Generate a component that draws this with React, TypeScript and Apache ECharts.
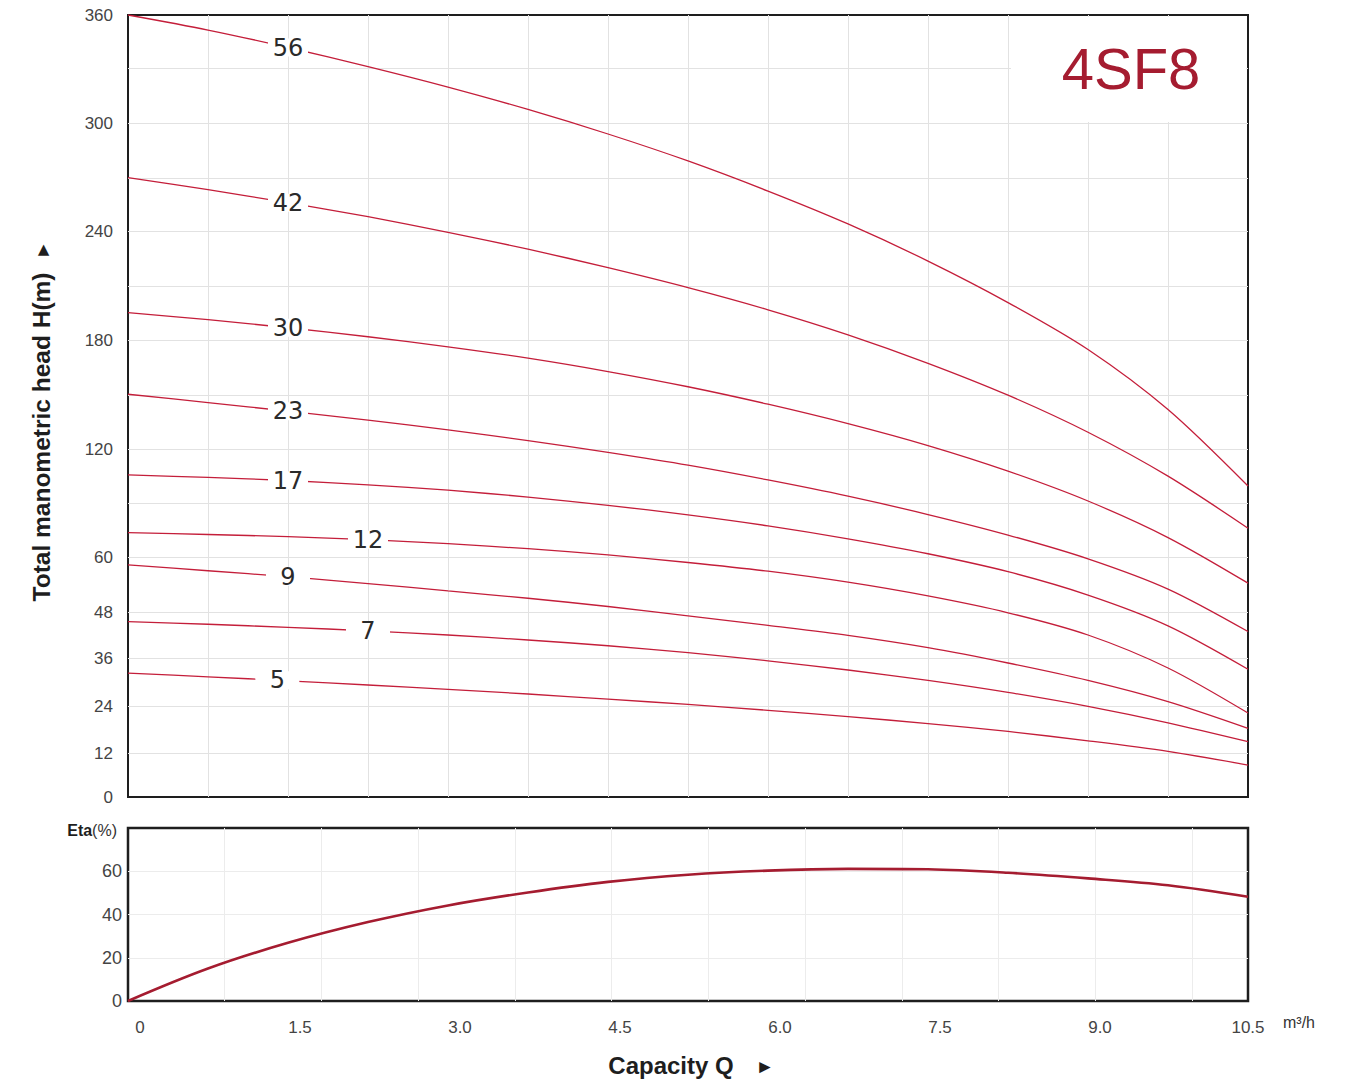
import React, { useEffect, useRef } from 'react';
import * as echarts from 'echarts';

// ---- data ----
const flowQ = [0, 0.75, 1.5, 2.25, 3, 3.75, 4.5, 5.25, 6, 6.75, 7.5, 8.25, 9, 9.75, 10.5];
const stageNames = ['56', '42', '30', '23', '17', '12', '9', '7', '5'];
const head56 = [360, 351.5, 341.6, 330.8, 319.6, 307.4, 294, 279.3, 262.6, 244, 223.6, 200.8, 174.8, 141.9, 99.4];
const head42 = [270.2, 263.4, 256, 248.1, 239.3, 230.1, 220, 209.1, 196.8, 182.9, 167.3, 149.9, 129.3, 104.9, 76];
const head30 = [195.2, 191.3, 186.8, 181.8, 176.3, 170.1, 162.8, 154.5, 144.9, 134.1, 121.9, 107.7, 91.1, 70.8, 54.3];
const head23 = [150.4, 145.8, 141, 136, 130.6, 124.7, 118.1, 111, 102.8, 93.8, 83.6, 72.2, 59.6, 53, 42.9];
const head17 = [105.6, 104.2, 102.5, 100.1, 97.1, 93.3, 88.7, 83.4, 77.3, 70.1, 61.8, 56.8, 51.7, 44.4, 33.2];
const head12 = [73.5, 72.5, 71.3, 69.6, 67.4, 64.6, 61.2, 58.8, 56.9, 54.5, 51.5, 47.8, 42, 33.5, 22.2];
const head9 = [58.3, 57, 55.7, 54.2, 52.6, 51, 49.2, 47, 44.5, 41.9, 38.7, 34.75, 30.4, 25.1, 18.3];
const head7 = [45.5, 44.8, 44, 43.1, 42, 40.7, 39.2, 37.4, 35.3, 33, 30.4, 27.4, 23.9, 19.7, 14.9];
const head5 = [32.2, 31.3, 30.3, 29.25, 28.15, 27, 25.7, 24.4, 22.9, 21.3, 19.5, 17.5, 15.1, 12.4, 8.7];
const efficiency = [0, 15, 26.9, 36.5, 44.2, 50.2, 55.1, 58.4, 60.3, 61.1, 60.9, 59.3, 56.7, 53.5, 48.2];
const stageLabelQ = [1.5, 1.5, 1.5, 1.5, 1.5, 2.25, 1.5, 2.25, 1.4];

// non-linear head axis: break values and their relative scale position
const headBreaks = [0, 12, 24, 36, 48, 60, 90, 120, 150, 180, 210, 240, 270, 300, 330, 360];
const headBreakScale = [0, 44, 91, 139, 185, 240, 294, 348, 402, 457, 511, 566, 619, 674, 729, 782];
const headTickLabels = [0, 12, 24, 36, 48, 60, 120, 180, 240, 300, 360];
const flowMax = 10.5;
const etaMax = 80;

const heads = [head56, head42, head30, head23, head17, head12, head9, head7, head5];

function toScale(h: number): number {
  for (let i = 0; i < headBreaks.length - 1; i++) {
    if (h <= headBreaks[i + 1] || i === headBreaks.length - 2) {
      const a = headBreaks[i], b = headBreaks[i + 1];
      return headBreakScale[i] + ((h - a) / (b - a)) * (headBreakScale[i + 1] - headBreakScale[i]);
    }
  }
  return 0;
}
function fromScale(v: number): string {
  for (let i = 0; i < headBreakScale.length; i++) {
    if (Math.abs(headBreakScale[i] - v) < 0.5) return String(headBreaks[i]);
  }
  return '';
}
function interpAt(xs: number[], ys: number[], x: number): number {
  for (let i = 0; i < xs.length - 1; i++) {
    if (x >= xs[i] && x <= xs[i + 1]) {
      const t = (x - xs[i]) / (xs[i + 1] - xs[i]);
      return ys[i] + t * (ys[i + 1] - ys[i]);
    }
  }
  return ys[ys.length - 1];
}

const FONT = 'Liberation Sans, Arial, sans-serif';
const CURVE = '#c41e3a';
const GRIDC = '#e2e2e2';

export default function App() {
  const ref = useRef<HTMLDivElement>(null);
  useEffect(() => {
    if (!ref.current) return;
    const chart = echarts.init(ref.current, undefined, { renderer: 'svg' });

    const series: any[] = [];
    heads.forEach((arr, i) => {
      const ys = arr.map(toScale);
      const data = flowQ.map((q, j) => [q, ys[j]]);
      const lq = stageLabelQ[i];
      const s: any = {
        type: 'line',
        xAxisIndex: 0,
        yAxisIndex: 0,
        data,
        smooth: 0.3,
        showSymbol: false,
        symbol: 'none',
        silent: true,
        z: 3,
        lineStyle: { color: CURVE, width: 1.3 },
        markPoint: {
          silent: true,
          symbol: 'rect',
          symbolSize: [stageNames[i].length === 1 ? 44 : 40, 18],
          itemStyle: { color: '#ffffff' },
          label: {
            show: true,
            position: 'inside',
            formatter: stageNames[i],
            color: '#2a2a2a',
            fontSize: 24,
            fontFamily: 'DejaVu Sans, sans-serif',
          },
          data: [{ coord: [lq, interpAt(flowQ, ys, lq)] }],
        },
      };
      if (i === 0) {
        s.markLine = {
          silent: true,
          z: 1,
          symbol: 'none',
          label: { show: false },
          lineStyle: { color: GRIDC, width: 1, type: 'solid' },
          data: headBreaks.slice(1, -1).map((b) => ({ yAxis: toScale(b) })),
        };
      }
      series.push(s);
    });
    series.push({
      type: 'line',
      xAxisIndex: 1,
      yAxisIndex: 1,
      data: flowQ.map((q, j) => [q, efficiency[j]]),
      smooth: 0.35,
      showSymbol: false,
      symbol: 'none',
      silent: true,
      z: 3,
      lineStyle: { color: '#a51c30', width: 2.6 },
    });

    const option: any = {
      animation: false,
      backgroundColor: '#ffffff',
      textStyle: { fontFamily: FONT },
      grid: [
        { left: 128, top: 15, right: 106, height: 782, show: true, borderColor: '#1e1e1e', borderWidth: 2, backgroundColor: 'transparent' },
        { left: 128, top: 828, right: 106, height: 173, show: true, borderColor: '#1e1e1e', borderWidth: 2.5, backgroundColor: 'transparent' },
      ],
      xAxis: [
        {
          gridIndex: 0, type: 'value', min: 0, max: flowMax, interval: 0.75,
          axisLine: { show: false }, axisTick: { show: false }, axisLabel: { show: false },
          splitLine: { show: true, showMinLine: false, showMaxLine: false, lineStyle: { color: GRIDC, width: 1 } },
        },
        {
          gridIndex: 1, type: 'value', min: 0, max: flowMax, interval: 1.5,
          axisLine: { show: false }, axisTick: { show: false }, splitLine: { show: false },
          axisLabel: {
            show: true, margin: 18, color: '#444', fontSize: 17, fontFamily: FONT,
            showMinLabel: true, showMaxLabel: true,
            formatter: (v: number) => {
              const s = v === 0 ? '0' : v.toFixed(1);
              if (v >= flowMax) return '{e|' + s + '}';
              return '{m|' + s + '}';
            },
            rich: {
              m: { padding: [0, 0, 0, 24], fontSize: 17, color: '#444', fontFamily: FONT },
              e: { fontSize: 17, color: '#444', fontFamily: FONT },
            },
          },
        },
        {
          gridIndex: 1, type: 'value', min: 0, max: flowMax, interval: 0.907, position: 'top',
          axisLine: { show: false }, axisTick: { show: false }, axisLabel: { show: false },
          splitLine: { show: true, showMinLine: false, showMaxLine: false, lineStyle: { color: '#ececec', width: 1 } },
        },
      ],
      yAxis: [
        {
          gridIndex: 0, type: 'value', min: 0, max: toScale(360),
          axisLine: { show: false }, axisTick: { show: false }, splitLine: { show: false },
          axisLabel: {
            show: true, margin: 15, color: '#444', fontSize: 17, fontFamily: FONT,
            customValues: headTickLabels.map(toScale),
            formatter: (v: number) => fromScale(v),
          },
        },
        {
          gridIndex: 1, type: 'value', min: 0, max: etaMax, interval: 20,
          axisLine: { show: false }, axisTick: { show: false },
          splitLine: { show: true, showMinLine: false, showMaxLine: false, lineStyle: { color: '#ececec', width: 1 } },
          axisLabel: {
            show: true, margin: 6, color: '#444', fontSize: 18, fontFamily: FONT,
            formatter: (v: number) => (v >= etaMax ? '' : String(v)),
          },
        },
      ],
      series,
      graphic: [
        { type: 'rect', z: 10, shape: { x: 1011, y: 17, width: 235, height: 105 }, style: { fill: '#ffffff' }, silent: true },
        {
          type: 'text', z: 11, x: 1131, y: 68,
          style: { text: '4SF8', fill: '#a51c30', fontSize: 58, fontFamily: FONT, align: 'center', verticalAlign: 'middle' },
        },
        {
          type: 'text', z: 11, x: 41, y: 437, rotation: Math.PI / 2,
          style: { text: 'Total manometric head H(m)', fill: '#1e1e1e', fontSize: 24.5, fontWeight: 'bold', fontFamily: FONT, align: 'center', verticalAlign: 'middle' },
        },
        {
          type: 'text', z: 11, x: 42, y: 250, rotation: Math.PI / 2,
          style: { text: '►', fill: '#1e1e1e', fontSize: 19, fontFamily: FONT, align: 'center', verticalAlign: 'middle' },
        },
        {
          type: 'text', z: 11, x: 671, y: 1065,
          style: { text: 'Capacity Q', fill: '#1e1e1e', fontSize: 24, fontWeight: 'bold', fontFamily: FONT, align: 'center', verticalAlign: 'middle' },
        },
        {
          type: 'text', z: 11, x: 765, y: 1066,
          style: { text: '►', fill: '#1e1e1e', fontSize: 19, fontFamily: FONT, align: 'center', verticalAlign: 'middle' },
        },
        {
          type: 'text', z: 11, x: 117, y: 830,
          style: {
            text: '{b|Eta}{n|(%)}', align: 'right', verticalAlign: 'middle',
            rich: {
              b: { fontSize: 16, fontWeight: 'bold', fill: '#1e1e1e', fontFamily: FONT },
              n: { fontSize: 16, fill: '#333', fontFamily: FONT },
            },
          },
        },
        {
          type: 'text', z: 11, x: 1283, y: 1022,
          style: { text: 'm³/h', fill: '#333', fontSize: 16, fontFamily: FONT, align: 'left', verticalAlign: 'middle' },
        },
      ],
    };
    chart.setOption(option);
    return () => chart.dispose();
  }, []);
  return (
    <div
      ref={ref}
      style={{ position: 'fixed', left: 0, top: 0, width: 1354, height: 1082, background: '#fff' }}
    />
  );
}
